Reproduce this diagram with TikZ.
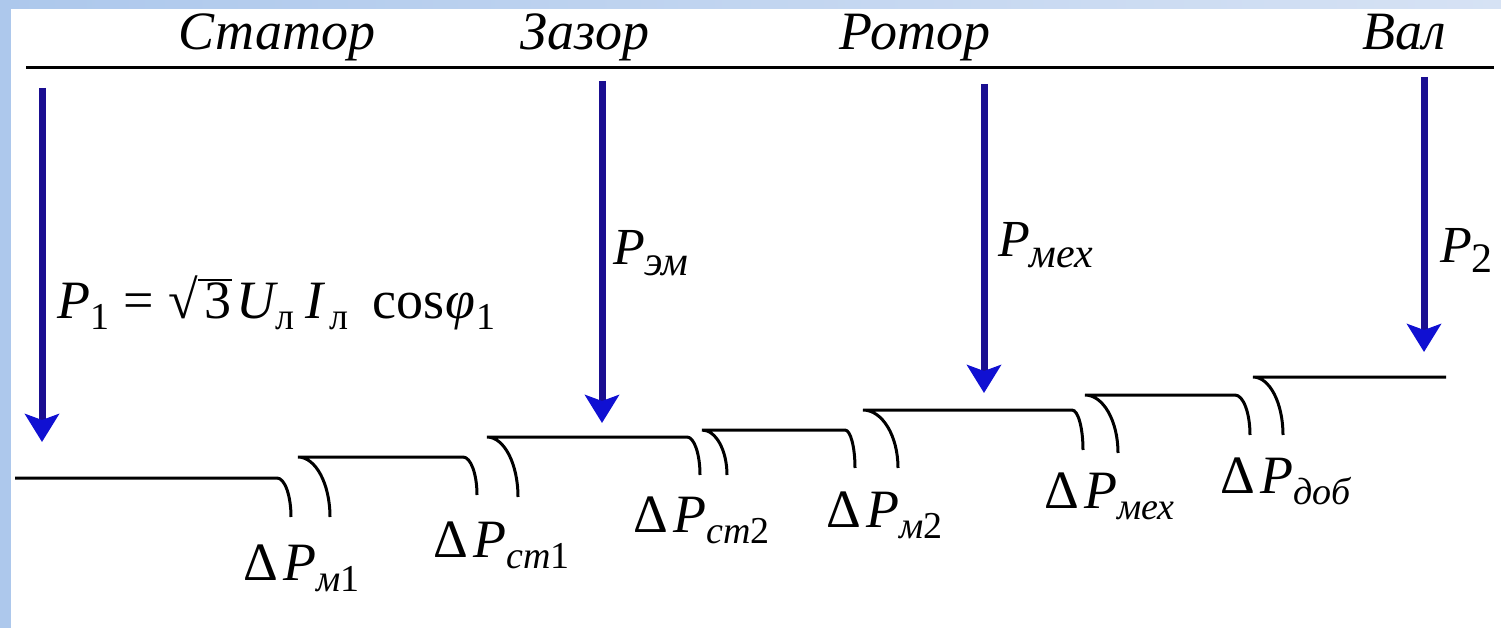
\documentclass[tikz,border=0pt]{standalone}
\usepackage{fontspec}
\setmainfont{Liberation Serif}
\usetikzlibrary{arrows.meta}
\definecolor{frameblue}{RGB}{173,200,236}
\definecolor{framelight}{RGB}{214,226,244}
\definecolor{shaftblue}{RGB}{26,14,145}
\definecolor{headblue}{RGB}{16,16,210}
\newcommand{\lowsub}[1]{\raisebox{-0.22em}{\fontsize{38}{40}\selectfont #1}}
\newcommand{\bigsub}[1]{\raisebox{-0.2em}{\fontsize{42}{44}\selectfont #1}}
\newcommand{\piece}[2]{\makebox[#1pt][l]{#2}}
\begin{document}
\begin{tikzpicture}[x=1pt,y=-1pt,
  hdr/.style={anchor=base, font=\fontsize{54}{60}\selectfont\itshape, inner sep=0pt},
  lbl/.style={anchor=base west, font=\fontsize{52}{56}\selectfont, inner sep=0pt},
  loss/.style={anchor=base west, font=\fontsize{54}{58}\selectfont, inner sep=0pt},
  flow/.style={draw=shaftblue, line width=7pt, -{Stealth[width=34pt,length=28pt,inset=6pt,color=headblue]}},
  stair/.style={draw=black, line width=3pt},
]
\useasboundingbox (0,0) rectangle (1501,628);
\fill[white] (0,0) rectangle (1501,628);
\fill[frameblue] (0,0) rectangle (11,628);
\shade[left color=frameblue, right color=framelight] (0,0) rectangle (1501,9);

% top line
\draw[line width=3pt] (26,68) -- (1494,68);

% headers
\node[hdr] (stator) at (277,50) {Статор};
\node[hdr] (zazor) at (585,50) {Зазор};
\node[hdr] (rotor) at (915,50) {Ротор};
\node[hdr] (val) at (1404,50) {Вал};

% arrows
\coordinate (a1s) at (42,88);   \coordinate (a1e) at (42,442);
\coordinate (a2s) at (602,81);  \coordinate (a2e) at (602,423);
\coordinate (a3s) at (984,84);  \coordinate (a3e) at (984,393);
\coordinate (a4s) at (1424,77); \coordinate (a4e) at (1424,352);
\draw[flow] (a1s) -- (a1e);
\draw[flow] (a2s) -- (a2e);
\draw[flow] (a3s) -- (a3e);
\draw[flow] (a4s) -- (a4e);

% power labels
\node[lbl, font=\fontsize{54}{58}\selectfont] (p1) at (57,318) {\piece{66}{\textit{P}\lowsub{1}}\piece{45}{=}\piece{36}{√\rlap{\rule[0.68em]{34pt}{2.5pt}}}\piece{32}{3}\piece{39}{\textit{U}}\piece{30}{\lowsub{л}}\piece{24}{\textit{I}}\piece{43}{\lowsub{л}}\piece{73}{cos}\piece{31}{\textit{φ}}\lowsub{1}};
\node[lbl] (pem) at (613,265) {\textit{P}\bigsub{\textit{эм}}};
\node[lbl] (pmech) at (998,257) {\textit{P}\bigsub{\textit{мех}}};
\node[lbl] (p2) at (1440,262) {\textit{P}\bigsub{2}};

% staircase
\draw[stair] (15,478) -- (277,478) arc[start angle=-90,end angle=0,x radius=14,y radius=39];
\draw[stair] (330,517) arc[start angle=0,end angle=-90,x radius=32,y radius=60] -- (463,457) arc[start angle=-90,end angle=0,x radius=14,y radius=38];
\draw[stair] (518,497) arc[start angle=0,end angle=-90,x radius=31,y radius=60] -- (687,437) arc[start angle=-90,end angle=0,x radius=13,y radius=38];
\draw[stair] (727,475) arc[start angle=0,end angle=-90,x radius=25,y radius=45] -- (845,430) arc[start angle=-90,end angle=0,x radius=10,y radius=38];
\draw[stair] (898,468) arc[start angle=0,end angle=-90,x radius=35,y radius=58] -- (1072,410) arc[start angle=-90,end angle=0,x radius=11,y radius=40];
\draw[stair] (1118,453) arc[start angle=0,end angle=-90,x radius=33,y radius=58] -- (1235,395) arc[start angle=-90,end angle=0,x radius=15,y radius=40];
\draw[stair] (1283,435) arc[start angle=0,end angle=-90,x radius=30,y radius=58] -- (1446,377);

% loss labels
\node[loss] (dm1) at (243,580) {Δ\kern0.1em\textit{P}\lowsub{\textit{м}1}};
\node[loss] (dst1) at (433,557) {Δ\kern0.1em\textit{P}\lowsub{\textit{ст}1}};
\node[loss] (dst2) at (633,532) {Δ\kern0.1em\textit{P}\lowsub{\textit{ст}2}};
\node[loss] (dm2) at (826,527) {Δ\kern0.1em\textit{P}\lowsub{\textit{м}2}};
\node[loss] (dmech) at (1044,508) {Δ\kern0.1em\textit{P}\lowsub{\textit{мех}}};
\node[loss] (ddob) at (1220,493) {Δ\kern0.1em\textit{P}\lowsub{\textit{доб}}};
\end{tikzpicture}
\end{document}
